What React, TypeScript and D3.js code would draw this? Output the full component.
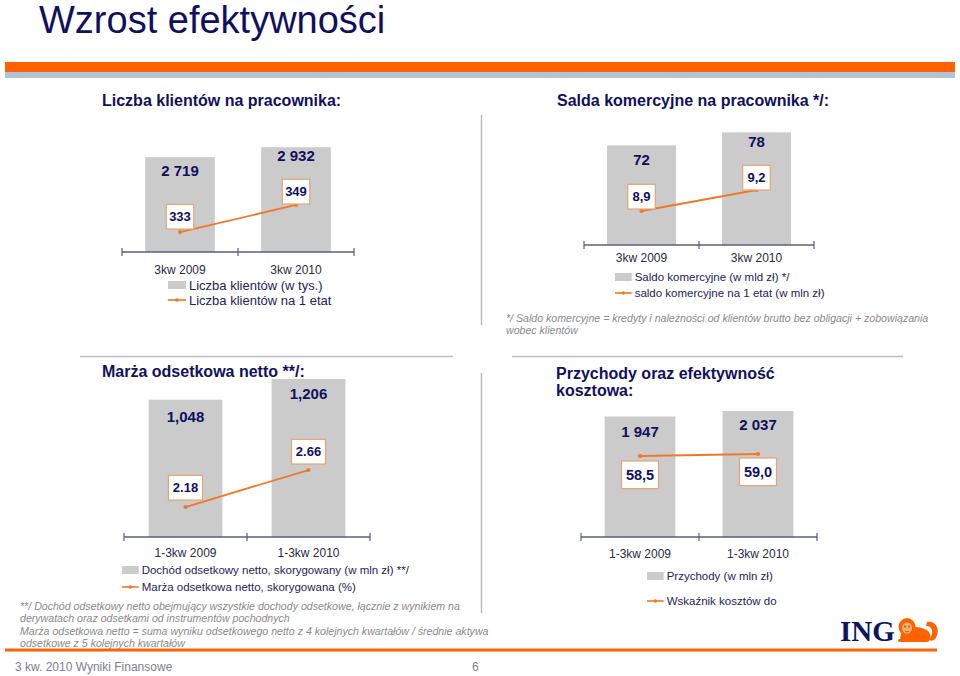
import React from "react";
import * as d3 from "d3";

// ---------- data ----------
const quarterCategories = ["3kw 2009", "3kw 2010"];
const ytdCategories = ["1-3kw 2009", "1-3kw 2010"];

const clientCounts = [2719, 2932];
const clientCountLabels = ["2 719", "2 932"];
const clientsPerFte = [333, 349];
const clientsPerFteLabels = ["333", "349"];

const balanceTotals = [72, 78];
const balanceTotalLabels = ["72", "78"];
const balancePerFte = [8.9, 9.2];
const balancePerFteLabels = ["8,9", "9,2"];

const interestIncome = [1048, 1206];
const interestIncomeLabels = ["1,048", "1,206"];
const interestMargin = [2.18, 2.66];
const interestMarginLabels = ["2.18", "2.66"];

const revenues = [1947, 2037];
const revenueLabels = ["1 947", "2 037"];
const costIncome = [58.5, 59.0];
const costIncomeLabels = ["58,5", "59,0"];

// ---------- styles ----------
const NAVY = "#10105E";
const LEG = "#23235A";
const BAR = "#CBCBCB";
const ORANGE = "#F07828";
const BOXSTROKE = "#E3A574";
const AXIS = "#5C5C7E";
const FONT = "'Liberation Sans', Arial, sans-serif";

type ChartCfg = {
  categories: string[];
  bars: number[];
  barLabels: string[];
  line: number[];
  lineLabels: string[];
  x0: number;
  x1: number;
  axisY: number;
  barDomain: [number, number];
  barTopPx: number;
  lineDomain: [number, number];
  lineRange: [number, number];
  labelDy: number[];
  barFont: number;
  boxFont: number;
  boxPlace: "above" | "below";
  boxGap: number[];
  catY: number;
  legX: number;
  legY: [number, number];
  legFont: number;
  legText: [string, string];
};

function Chart({ c }: { c: ChartCfg }) {
  const xb = d3
    .scaleBand<string>()
    .domain(c.categories)
    .range([c.x0, c.x1])
    .paddingInner(0.4)
    .paddingOuter(0.2);
  const yb = d3.scaleLinear().domain(c.barDomain).range([c.axisY, c.barTopPx]);
  const yl = d3.scaleLinear().domain(c.lineDomain).range(c.lineRange);
  const cx = (cat: string) => (xb(cat) as number) + xb.bandwidth() / 2;
  const pts: [number, number][] = c.categories.map((cat, i) => [cx(cat), yl(c.line[i])]);
  const lineGen = d3.line();
  const step = xb.step();
  const ticks = [c.x0, c.x0 + step, c.x1];
  const sw = Math.min(c.legFont * 1.45, 18);
  return (
    <g fontFamily={FONT}>
      {c.categories.map((cat, i) => (
        <rect
          key={cat}
          x={xb(cat)}
          y={yb(c.bars[i])}
          width={xb.bandwidth()}
          height={c.axisY - yb(c.bars[i])}
          fill={BAR}
        />
      ))}
      {c.categories.map((cat, i) => (
        <text
          key={"bl" + cat}
          x={cx(cat)}
          y={yb(c.bars[i]) + c.labelDy[i]}
          dy="0.35em"
          textAnchor="middle"
          fontWeight="bold"
          fontSize={c.barFont}
          fill={NAVY}
        >
          {c.barLabels[i]}
        </text>
      ))}
      <line x1={c.x0} x2={c.x1} y1={c.axisY} y2={c.axisY} stroke={AXIS} strokeWidth={1.6} />
      {ticks.map((t) => (
        <line key={t} x1={t} x2={t} y1={c.axisY - 4} y2={c.axisY + 4} stroke={AXIS} strokeWidth={1.2} />
      ))}
      <path d={lineGen(pts) || ""} stroke={ORANGE} strokeWidth={1.8} fill="none" />
      {pts.map((p, i) => (
        <circle key={"m" + i} cx={p[0]} cy={p[1]} r={2} fill={ORANGE} />
      ))}
      {pts.map((p, i) => {
        const tw = c.lineLabels[i].length * c.boxFont * 0.5;
        const w = tw + 8;
        const h = c.boxFont * 1.9;
        const y = c.boxPlace === "above" ? p[1] - c.boxGap[i] - h : p[1] + c.boxGap[i];
        return (
          <g key={"b" + i}>
            <rect x={p[0] - w / 2} y={y} width={w} height={h} fill="#fff" stroke={BOXSTROKE} strokeWidth={1.2} />
            <text
              x={p[0]}
              y={y + h / 2}
              dy="0.36em"
              textAnchor="middle"
              fontWeight="bold"
              fontSize={c.boxFont}
              fill={NAVY}
            >
              {c.lineLabels[i]}
            </text>
          </g>
        );
      })}
      {c.categories.map((cat) => (
        <text key={"c" + cat} x={cx(cat)} y={c.catY} dy="0.35em" textAnchor="middle" fontSize={12} fill="#2A2A40">
          {cat}
        </text>
      ))}
      <rect x={c.legX} y={c.legY[0] - 4} width={sw} height={8} fill={BAR} />
      <text x={c.legX + sw + 3} y={c.legY[0]} dy="0.35em" fontSize={c.legFont} fill={LEG}>
        {c.legText[0]}
      </text>
      <line x1={c.legX} x2={c.legX + sw} y1={c.legY[1]} y2={c.legY[1]} stroke={ORANGE} strokeWidth={1.6} />
      <circle cx={c.legX + sw / 2} cy={c.legY[1]} r={1.8} fill={ORANGE} />
      <text x={c.legX + sw + 3} y={c.legY[1]} dy="0.35em" fontSize={c.legFont} fill={LEG}>
        {c.legText[1]}
      </text>
    </g>
  );
}

const charts: ChartCfg[] = [
  {
    categories: quarterCategories,
    bars: clientCounts,
    barLabels: clientCountLabels,
    line: clientsPerFte,
    lineLabels: clientsPerFteLabels,
    x0: 122,
    x1: 354,
    axisY: 252,
    barDomain: [700, 3000],
    barTopPx: 144,
    lineDomain: [320, 360],
    lineRange: [254, 186.4],
    labelDy: [14, 9],
    barFont: 15,
    boxFont: 13,
    boxPlace: "above",
    boxGap: [3, 1],
    catY: 270,
    legX: 168,
    legY: [285, 300],
    legFont: 13,
    legText: ["Liczba klientów (w tys.)", "Liczba klientów na 1 etat"],
  },
  {
    categories: quarterCategories,
    bars: balanceTotals,
    barLabels: balanceTotalLabels,
    line: balancePerFte,
    lineLabels: balancePerFteLabels,
    x0: 584,
    x1: 814,
    axisY: 245,
    barDomain: [26, 80],
    barTopPx: 128,
    lineDomain: [8.5, 9.5],
    lineRange: [239, 169],
    labelDy: [14, 9],
    barFont: 15,
    boxFont: 13,
    boxPlace: "above",
    boxGap: [2, 0],
    catY: 258,
    legX: 615,
    legY: [277, 293],
    legFont: 11.5,
    legText: ["Saldo komercyjne (w mld zł) */", "saldo komercyjne na 1 etat (w mln zł)"],
  },
  {
    categories: ytdCategories,
    bars: interestIncome,
    barLabels: interestIncomeLabels,
    line: interestMargin,
    lineLabels: interestMarginLabels,
    x0: 124,
    x1: 370,
    axisY: 537,
    barDomain: [0, 1206],
    barTopPx: 379,
    lineDomain: [2, 3],
    lineRange: [520.9, 443.8],
    labelDy: [17, 15],
    barFont: 15,
    boxFont: 13,
    boxPlace: "above",
    boxGap: [7, 6],
    catY: 553,
    legX: 122,
    legY: [570, 587],
    legFont: 11.5,
    legText: ["Dochód odsetkowy netto, skorygowany (w mln zł)  **/", "Marża odsetkowa netto, skorygowana (%)"],
  },
  {
    categories: ytdCategories,
    bars: revenues,
    barLabels: revenueLabels,
    line: costIncome,
    lineLabels: costIncomeLabels,
    x0: 581,
    x1: 817,
    axisY: 537,
    barDomain: [0, 2037],
    barTopPx: 411,
    lineDomain: [58, 60],
    lineRange: [458, 450],
    labelDy: [15, 14],
    barFont: 15,
    boxFont: 14.5,
    boxPlace: "below",
    boxGap: [5, 4],
    catY: 554,
    legX: 647,
    legY: [576, 601],
    legFont: 11.5,
    legText: ["Przychody (w mln zł)", "Wskaźnik kosztów do"],
  },
];

function Lion() {
  return (
    <g fill="#FF6200">
      <path d="M927,622 C937,620 941,632 935,639 C933,641 930,641 929,640 C934,634 933,626 926,626 Z" />
      <path d="M904,630 C908,626 922,626 928,631 C932,635 931,641 927,642 L902,642 C899,640 900,634 904,630 Z" />
      <ellipse cx={907} cy={627} rx={8.5} ry={9} />
      <ellipse cx={907} cy={628} rx={5} ry={5.5} fill="#FFB070" />
      <circle cx={905} cy={626.5} r={0.9} fill="#B84000" />
      <circle cx={909} cy={626.5} r={0.9} fill="#B84000" />
      <path d="M905,631 Q907,633 909,631" stroke="#B84000" strokeWidth={0.8} fill="none" />
      <rect x={898} y={639} width={12} height={3} rx={1.5} />
    </g>
  );
}

export default function App() {
  return (
    <svg
      width={960}
      height={676}
      viewBox="0 0 960 676"
      style={{ position: "absolute", left: 0, top: 0, background: "#fff" }}
      fontFamily={FONT}
    >
      <rect width={960} height={676} fill="#fff" />
      <text x={39} y={33} fontSize={38} fill={NAVY}>
        Wzrost efektywności
      </text>
      <rect x={5} y={62} width={950} height={10} fill="#FF6200" />
      <rect x={5} y={72} width={950} height={6} fill="#B3C2DB" />

      <text x={102} y={106} fontSize={16} fontWeight="bold" fill={NAVY}>
        Liczba klientów na pracownika:
      </text>
      <text x={557} y={106} fontSize={16} fontWeight="bold" fill={NAVY}>
        Salda komercyjne na pracownika */:
      </text>

      <line x1={481.5} x2={481.5} y1={115} y2={325} stroke="#B8B8B8" strokeWidth={1.5} />
      <line x1={481.5} x2={481.5} y1={373} y2={613} stroke="#B8B8B8" strokeWidth={1.5} />
      <line x1={80} x2={453} y1={356.5} y2={356.5} stroke="#BDBDC8" strokeWidth={1.5} />
      <line x1={512} x2={903} y1={356.5} y2={356.5} stroke="#BDBDC8" strokeWidth={1.5} />

      <text x={102} y={377} fontSize={16} fontWeight="bold" fill={NAVY}>
        Marża odsetkowa netto **/:
      </text>
      <text x={556} y={379} fontSize={16} fontWeight="bold" fill={NAVY}>
        Przychody oraz efektywność
      </text>
      <text x={556} y={396} fontSize={16} fontWeight="bold" fill={NAVY}>
        kosztowa:
      </text>

      {charts.map((c, i) => (
        <Chart key={i} c={c} />
      ))}

      <g fontSize={10.6} fontStyle="italic" fill="#8A8A8A">
        <text x={506} y={322}>
          */ Saldo komercyjne = kredyty i należności od klientów brutto bez obligacji + zobowiązania
        </text>
        <text x={506} y={334}>wobec klientów</text>
        <text x={20} y={610}>
          **/ Dochód odsetkowy netto obejmujący wszystkie dochody odsetkowe, łącznie z wynikiem na
        </text>
        <text x={20} y={622}>derywatach oraz odsetkami od instrumentów pochodnych</text>
        <text x={20} y={635}>
          Marża odsetkowa netto = suma wyniku odsetkowego netto z 4 kolejnych kwartałów / średnie aktywa
        </text>
        <text x={20} y={647}>odsetkowe z 5 kolejnych kwartałów</text>
      </g>

      <rect x={5} y={648.5} width={932} height={3} fill="#FF6200" />
      <text x={15} y={671} fontSize={12} fill="#7E7E8E">
        3 kw. 2010 Wyniki Finansowe
      </text>
      <text x={472} y={671} fontSize={12} fill="#7E7E8E">
        6
      </text>

      <text x={840} y={641} fontSize={29} fontWeight="bold" fill="#0D1660" fontFamily="'Liberation Serif', 'DejaVu Serif', serif">
        ING
      </text>
      <Lion />
    </svg>
  );
}
